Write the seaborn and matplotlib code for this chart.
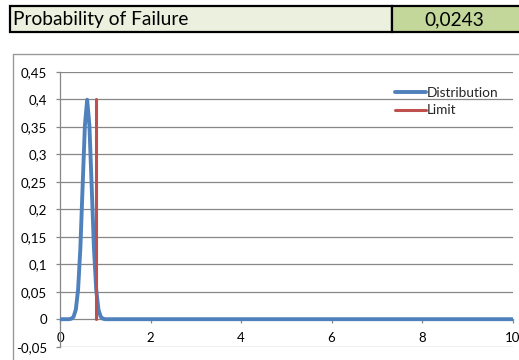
import matplotlib
matplotlib.use("Agg")
import matplotlib.pyplot as plt
from matplotlib.patches import Rectangle
from matplotlib.lines import Line2D
import pandas as pd
import seaborn as sns

# Distribution curve (density values) and limit line
dist_x = [0.0, 0.1, 0.2, 0.25, 0.30, 0.35, 0.40, 0.45, 0.50, 0.55, 0.60,
          0.65, 0.70, 0.75, 0.80, 0.85, 0.90, 0.95, 1.0, 2.0, 4.0, 6.0, 8.0, 10.0]
dist_y = [0.0, 0.0, 0.0, 0.0009, 0.0044, 0.0175, 0.054, 0.1295, 0.242, 0.352, 0.399,
          0.352, 0.242, 0.1295, 0.054, 0.0175, 0.0044, 0.0009, 0.0, 0.0, 0.0, 0.0, 0.0, 0.0]
limit_x = [0.8, 0.8]
limit_y = [0.0, 0.4]

header_label = "Probability of Failure"
header_value = "0,0243"

y_ticks = [-0.05, 0.0, 0.05, 0.1, 0.15, 0.2, 0.25, 0.3, 0.35, 0.4, 0.45]
y_labels = ["-0,05", "0", "0,05", "0,1", "0,15", "0,2", "0,25", "0,3", "0,35", "0,4", "0,45"]
x_ticks = [0, 2, 4, 6, 8, 10]
x_labels = ["0", "2", "4", "6", "8", "10"]

sns.set_theme(style="white")
plt.rcParams["font.family"] = ["Lato", "DejaVu Sans"]

W, H = 519, 360
fig = plt.figure(figsize=(W / 100, H / 100), dpi=100)


def fx(px):
    return px / W


def fy(py):
    return 1 - py / H


BLUE = "#4F81BD"
RED = "#C0504D"
GRID = "#878787"

# Header cells
fig.patches.append(Rectangle((fx(10), fy(32)), fx(392) - fx(10), fy(6) - fy(32),
                             transform=fig.transFigure, facecolor="#EBF1DE",
                             edgecolor="black", linewidth=1.6, zorder=1))
fig.patches.append(Rectangle((fx(392), fy(32)), fx(522) - fx(392), fy(6) - fy(32),
                             transform=fig.transFigure, facecolor="#C4D79B",
                             edgecolor="black", linewidth=1.6, zorder=1))
fig.text(fx(13), fy(19.5), header_label, fontsize=13.8, va="center", ha="left", color="black")
fig.text(fx(454), fy(19.5), header_value, fontsize=13.8, va="center", ha="center", color="black")

# Chart frame
fig.lines.append(Line2D([fx(13), fx(13)], [fy(54), fy(362)], transform=fig.transFigure,
                        color="#9A9A9A", linewidth=1.0))
fig.lines.append(Line2D([fx(13), fx(522)], [fy(54), fy(54)], transform=fig.transFigure,
                        color="#9A9A9A", linewidth=1.0))

# Plot area
left, right, top, bottom = 60, 512.5, 71.7, 346.7
ax = fig.add_axes([fx(left), fy(bottom), fx(right) - fx(left), fy(top) - fy(bottom)])
ax.set_facecolor("none")

df = pd.DataFrame({"x": dist_x, "y": dist_y})
sns.lineplot(data=df, x="x", y="y", ax=ax, color=BLUE, linewidth=2.8,
             estimator=None, sort=False, label="Distribution", zorder=3)
sns.lineplot(x=limit_x, y=limit_y, ax=ax, color=RED, linewidth=2.2,
             estimator=None, sort=False, label="Limit", zorder=4)

ax.set_xlim(0, 10)
ax.set_ylim(-0.05, 0.45)
ax.set_yticks(y_ticks)
ax.set_yticklabels(y_labels)
ax.set_xticks(x_ticks)
ax.set_xticklabels(x_labels)
ax.set_xlabel("")
ax.set_ylabel("")

for yv in y_ticks:
    if yv != 0.0:
        ax.axhline(yv, color=GRID, linewidth=0.9, zorder=1)

for s in ["top", "right"]:
    ax.spines[s].set_visible(False)
ax.spines["left"].set_color(GRID)
ax.spines["left"].set_linewidth(0.9)
ax.spines["bottom"].set_position(("data", 0))
ax.spines["bottom"].set_color(GRID)
ax.spines["bottom"].set_linewidth(0.9)

ax.tick_params(axis="y", which="both", left=True, length=3, width=0.9, color=GRID,
               labelsize=9.5, pad=6.5, labelcolor="black")
ax.tick_params(axis="x", which="both", bottom=True, length=3, width=0.9, color=GRID,
               labelsize=9.5, pad=6.5, labelcolor="black")

leg = ax.legend(loc="upper left", bbox_to_anchor=((395 - left) / (right - left),
                                                  1 - (87 - top) / (bottom - top)),
                frameon=False, fontsize=9.8, handlelength=2.3, handletextpad=0.0,
                labelspacing=0.4, borderpad=0.0, borderaxespad=0.0)

fig.savefig("out.png", dpi=100)
